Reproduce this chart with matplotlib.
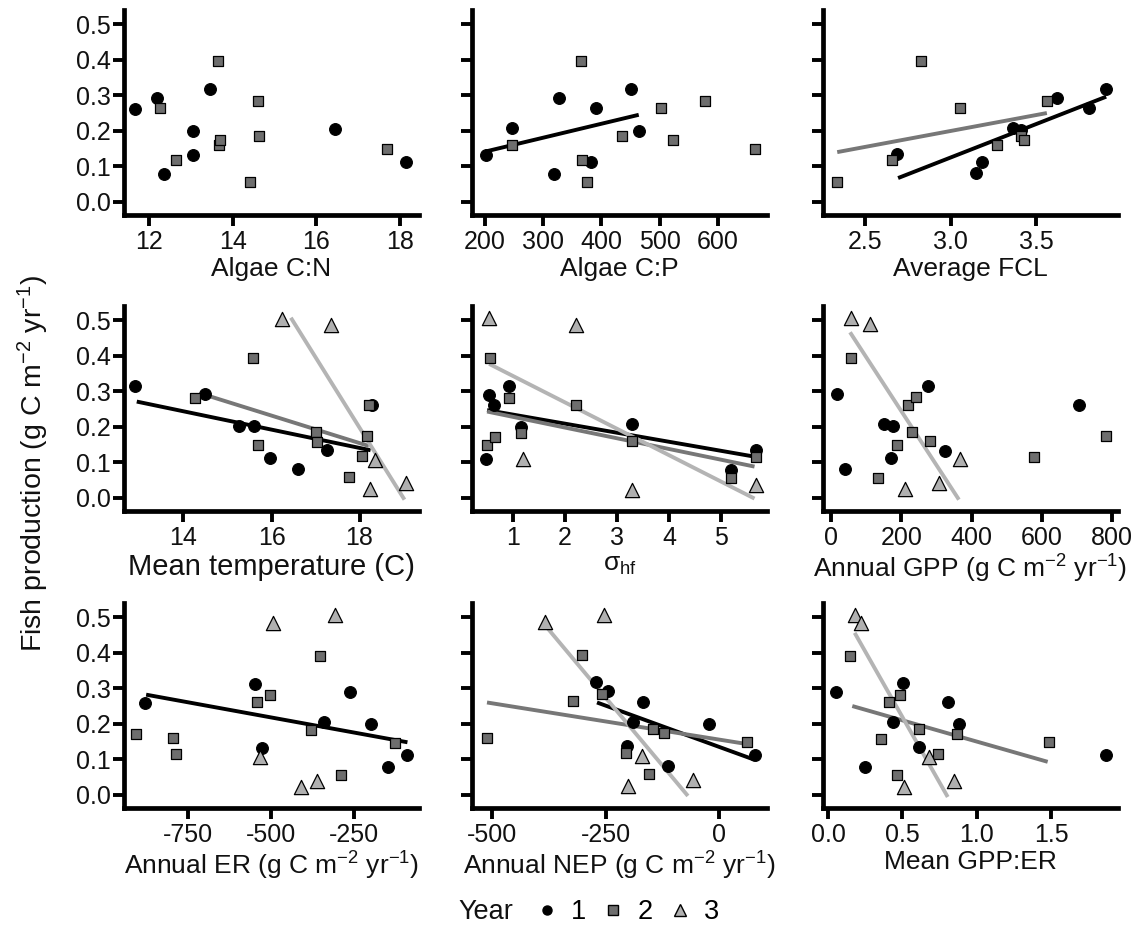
import numpy as np
import matplotlib
matplotlib.use("Agg")
import matplotlib.pyplot as plt
from matplotlib.lines import Line2D

plt.rcParams['font.family'] = ['Liberation Sans', 'DejaVu Sans']
plt.rcParams['axes.unicode_minus'] = False
plt.rcParams['mathtext.fontset'] = 'custom'
plt.rcParams['mathtext.rm'] = 'Liberation Sans'
plt.rcParams['mathtext.it'] = 'Liberation Sans:italic'
plt.rcParams['mathtext.bf'] = 'Liberation Sans:bold'

# %% Data (x per year, y = fish production per year)
# Algae C:N
cn_x1 = [11.66, 12.18, 12.36, 13.04, 13.05, 13.46, 16.44, 18.14]
cn_y1 = [0.262, 0.292, 0.079, 0.200, 0.133, 0.317, 0.206, 0.111]
cn_x2 = [12.26, 12.64, 13.64, 13.68, 13.70, 14.60, 14.63, 14.42, 17.70]
cn_y2 = [0.264, 0.117, 0.396, 0.159, 0.175, 0.284, 0.184, 0.057, 0.150]

# Algae C:P
cp_x1 = [202, 246, 318, 328, 391, 382, 450, 465]
cp_y1 = [0.133, 0.207, 0.079, 0.293, 0.264, 0.111, 0.318, 0.200]
cp_x2 = [247, 365, 367, 375, 436, 503, 523, 577, 663]
cp_y2 = [0.159, 0.396, 0.117, 0.057, 0.184, 0.264, 0.173, 0.284, 0.150]

# Average FCL
fcl_x1 = [2.690, 3.147, 3.185, 3.364, 3.413, 3.622, 3.807, 3.908]
fcl_y1 = [0.135, 0.081, 0.112, 0.207, 0.201, 0.293, 0.264, 0.318]
fcl_x2 = [2.339, 2.659, 2.830, 3.057, 3.273, 3.413, 3.426, 3.564]
fcl_y2 = [0.057, 0.117, 0.396, 0.264, 0.159, 0.184, 0.173, 0.284]

# Mean temperature
tmp_x1 = [12.91, 14.49, 15.27, 15.61, 15.97, 16.60, 17.26, 18.28]
tmp_y1 = [0.315, 0.291, 0.203, 0.201, 0.111, 0.081, 0.134, 0.262]
tmp_x2 = [14.27, 15.59, 15.69, 17.00, 17.04, 18.17, 18.05, 17.76, 18.21]
tmp_y2 = [0.282, 0.394, 0.150, 0.185, 0.158, 0.173, 0.118, 0.058, 0.262]
tmp_x3 = [16.24, 17.35, 18.36, 18.24, 19.05]
tmp_y3 = [0.503, 0.486, 0.107, 0.025, 0.041]

# sigma_hf
sig_x1 = [0.54, 0.64, 0.48, 0.92, 1.15, 3.28, 5.18, 5.66]
sig_y1 = [0.290, 0.261, 0.110, 0.315, 0.200, 0.207, 0.079, 0.135]
sig_x2 = [0.56, 0.49, 0.65, 0.92, 1.15, 2.20, 3.28, 5.19, 5.66]
sig_y2 = [0.394, 0.149, 0.172, 0.282, 0.183, 0.261, 0.160, 0.056, 0.116]
sig_x3 = [0.54, 2.20, 1.19, 3.29, 5.66]
sig_y3 = [0.507, 0.487, 0.109, 0.023, 0.037]

# Annual GPP
gpp_x1 = [16, 40, 151, 175, 172, 275, 324, 705]
gpp_y1 = [0.292, 0.081, 0.207, 0.201, 0.111, 0.315, 0.133, 0.262]
gpp_x2 = [56, 220, 241, 231, 189, 281, 135, 577, 783]
gpp_y2 = [0.394, 0.262, 0.283, 0.185, 0.150, 0.160, 0.057, 0.116, 0.173]
gpp_x3 = [57, 111, 366, 210, 308]
gpp_y3 = [0.507, 0.489, 0.109, 0.025, 0.041]

# Annual ER
er_x1 = [-881, -548, -528, -339, -260, -197, -146, -87]
er_y1 = [0.259, 0.313, 0.131, 0.206, 0.289, 0.199, 0.079, 0.111]
er_x2 = [-910, -798, -788, -543, -502, -352, -378, -288, -125]
er_y2 = [0.171, 0.159, 0.116, 0.261, 0.281, 0.392, 0.183, 0.056, 0.146]
er_x3 = [-493, -306, -533, -408, -362]
er_y3 = [0.483, 0.505, 0.106, 0.023, 0.040]

# Annual NEP
nep_x1 = [-271, -245, -168, -190, -204, -113, -23, 78]
nep_y1 = [0.317, 0.292, 0.260, 0.205, 0.137, 0.080, 0.200, 0.113]
nep_x2 = [-511, -321, -301, -259, -206, -155, -146, -122, 61]
nep_y2 = [0.161, 0.265, 0.394, 0.283, 0.117, 0.059, 0.186, 0.174, 0.149]
nep_x3 = [-383, -253, -169, -201, -58]
nep_y3 = [0.486, 0.507, 0.108, 0.025, 0.043]

# Mean GPP:ER
ratio_x1 = [0.056, 0.246, 0.436, 0.503, 0.615, 0.805, 0.884, 1.868]
ratio_y1 = [0.290, 0.077, 0.206, 0.315, 0.134, 0.261, 0.199, 0.111]
ratio_x2 = [0.150, 0.358, 0.409, 0.481, 0.615, 0.738, 0.868, 0.463, 1.483]
ratio_y2 = [0.392, 0.157, 0.262, 0.281, 0.185, 0.116, 0.171, 0.056, 0.148]
ratio_x3 = [0.179, 0.224, 0.682, 0.508, 0.850]
ratio_y3 = [0.505, 0.484, 0.106, 0.023, 0.040]

# Fitted lm lines: year -> ([x0, x1], [y0, y1])
cp_fit = {1: ([202, 464], [0.142, 0.245])}
fcl_fit = {1: ([2.694, 3.908], [0.067, 0.296]), 2: ([2.339, 3.562], [0.140, 0.250])}
tmp_fit = {1: ([12.94, 18.25], [0.271, 0.134]), 2: ([14.49, 18.21], [0.290, 0.146]),
           3: ([16.44, 19.02], [0.507, -0.005])}
sig_fit = {1: ([0.50, 5.64], [0.247, 0.116]), 2: ([0.50, 5.64], [0.243, 0.088]),
           3: ([0.54, 5.64], [0.377, -0.002])}
gpp_fit = {3: ([54, 364], [0.466, -0.005])}
er_fit = {1: ([-878, -87], [0.282, 0.148])}
nep_fit = {1: ([-269, 77], [0.260, 0.099]), 2: ([-511, 61], [0.260, 0.143]),
           3: ([-383, -69], [0.477, -0.003])}
ratio_fit = {2: ([0.163, 1.477], [0.250, 0.093]), 3: ([0.179, 0.805], [0.456, -0.006])}

years = ["1", "2", "3"]
yticks = [0.0, 0.1, 0.2, 0.3, 0.4, 0.5]

panels = [
    ("Algae C:N", (11.4, 18.46), [12, 14, 16, 18], None,
     [(cn_x1, cn_y1), (cn_x2, cn_y2), None], {}),
    ("Algae C:P", (178, 684), [200, 300, 400, 500, 600], None,
     [(cp_x1, cp_y1), (cp_x2, cp_y2), None], cp_fit),
    ("Average FCL", (2.256, 3.977), [2.5, 3.0, 3.5], ["2.5", "3.0", "3.5"],
     [(fcl_x1, fcl_y1), (fcl_x2, fcl_y2), None], fcl_fit),
    ("Mean temperature (C)", (12.65, 19.35), [14, 16, 18], None,
     [(tmp_x1, tmp_y1), (tmp_x2, tmp_y2), (tmp_x3, tmp_y3)], tmp_fit),
    ("σ$_{\\mathrm{hf}}$", (0.21, 5.88), [1, 2, 3, 4, 5], None,
     [(sig_x1, sig_y1), (sig_x2, sig_y2), (sig_x3, sig_y3)], sig_fit),
    ("Annual GPP (g C m$^{-2}$ yr$^{-1}$)", (-23, 817), [0, 200, 400, 600, 800], None,
     [(gpp_x1, gpp_y1), (gpp_x2, gpp_y2), (gpp_x3, gpp_y3)], gpp_fit),
    ("Annual ER (g C m$^{-2}$ yr$^{-1}$)", (-945, -52), [-750, -500, -250], None,
     [(er_x1, er_y1), (er_x2, er_y2), (er_x3, er_y3)], er_fit),
    ("Annual NEP (g C m$^{-2}$ yr$^{-1}$)", (-544, 105), [-500, -250, 0], None,
     [(nep_x1, nep_y1), (nep_x2, nep_y2), (nep_x3, nep_y3)], nep_fit),
    ("Mean GPP:ER", (-0.034, 1.95), [0.0, 0.5, 1.0, 1.5], ["0.0", "0.5", "1.0", "1.5"],
     [(ratio_x1, ratio_y1), (ratio_x2, ratio_y2), (ratio_x3, ratio_y3)], ratio_fit),
]
title_size = [19, 19, 19, 21, 19, 19, 19, 19, 19]

# %% Styles
mk = {1: dict(marker="o", s=72, facecolor="black", edgecolor="black", linewidths=0.8),
      2: dict(marker="s", s=54, facecolor="#6e6e6e", edgecolor="black", linewidths=0.9),
      3: dict(marker="^", s=105, facecolor="#b0b0b0", edgecolor="black", linewidths=0.9)}
line_col = {1: "black", 2: "#777777", 3: "#b4b4b4"}

# %% Plot
fig = plt.figure(figsize=(11.41, 9.26), dpi=100)
W, H = 1141, 926
col_left = [124, 472, 823]
row_bottom = [215, 511, 808]
pw, ph = 295, 205

for i, (xlab, xlim, xt, xtl, pts, fits) in enumerate(panels):
    r, c = divmod(i, 3)
    ax = fig.add_axes([col_left[c] / W, 1 - row_bottom[r] / H, pw / W, ph / H])
    for yr, (fx, fy) in fits.items():
        ax.plot(fx, fy, color=line_col[yr], lw=2.8, solid_capstyle="butt", zorder=2)
    for k, p in enumerate(pts):
        if p is None:
            continue
        ax.scatter(p[0], p[1], zorder=3, clip_on=False, **mk[k + 1])
    ax.set_xlim(*xlim)
    ax.set_ylim(-0.037, 0.54)
    ax.set_xticks(xt)
    if xtl is not None:
        ax.set_xticklabels(xtl)
    ax.set_yticks(yticks)
    if c == 0:
        ax.set_yticklabels([f"{v:.1f}" for v in yticks])
    else:
        ax.set_yticklabels([])
    ax.set_xlabel(xlab, fontsize=title_size[i], labelpad=2, color="#111111")
    for s in ["top", "right"]:
        ax.spines[s].set_visible(False)
    for s in ["left", "bottom"]:
        ax.spines[s].set_linewidth(3.4)
    ax.tick_params(axis="both", length=8, width=2.8, labelsize=18, colors="black",
                   labelcolor="#111111")
    ax.tick_params(axis="y", pad=1.5)
    ax.tick_params(axis="x", pad=3)

fig.text(33 / W, 1 - 463 / H, "Fish production (g C m$^{-2}$ yr$^{-1}$)",
         rotation=90, ha="center", va="center", fontsize=20.5, color="#111111")

# legend
fig.text(486 / W, 1 - 912 / H, "Year", ha="center", va="center", fontsize=19.5,
         color="#111111")
handles = [Line2D([], [], linestyle="none", marker="o", markersize=6.5,
                  markerfacecolor="black", markeredgecolor="black"),
           Line2D([], [], linestyle="none", marker="s", markersize=6.5,
                  markerfacecolor="#6e6e6e", markeredgecolor="black"),
           Line2D([], [], linestyle="none", marker="^", markersize=8,
                  markerfacecolor="#b0b0b0", markeredgecolor="black")]
fig.legend(handles, years, loc="center left", bbox_to_anchor=(533 / W, 1 - 912 / H),
           ncol=3, frameon=False, fontsize=19.5, handlelength=1.0,
           handletextpad=0.4, columnspacing=0.5, borderpad=0, borderaxespad=0)

fig.savefig("out.png", dpi=100)
